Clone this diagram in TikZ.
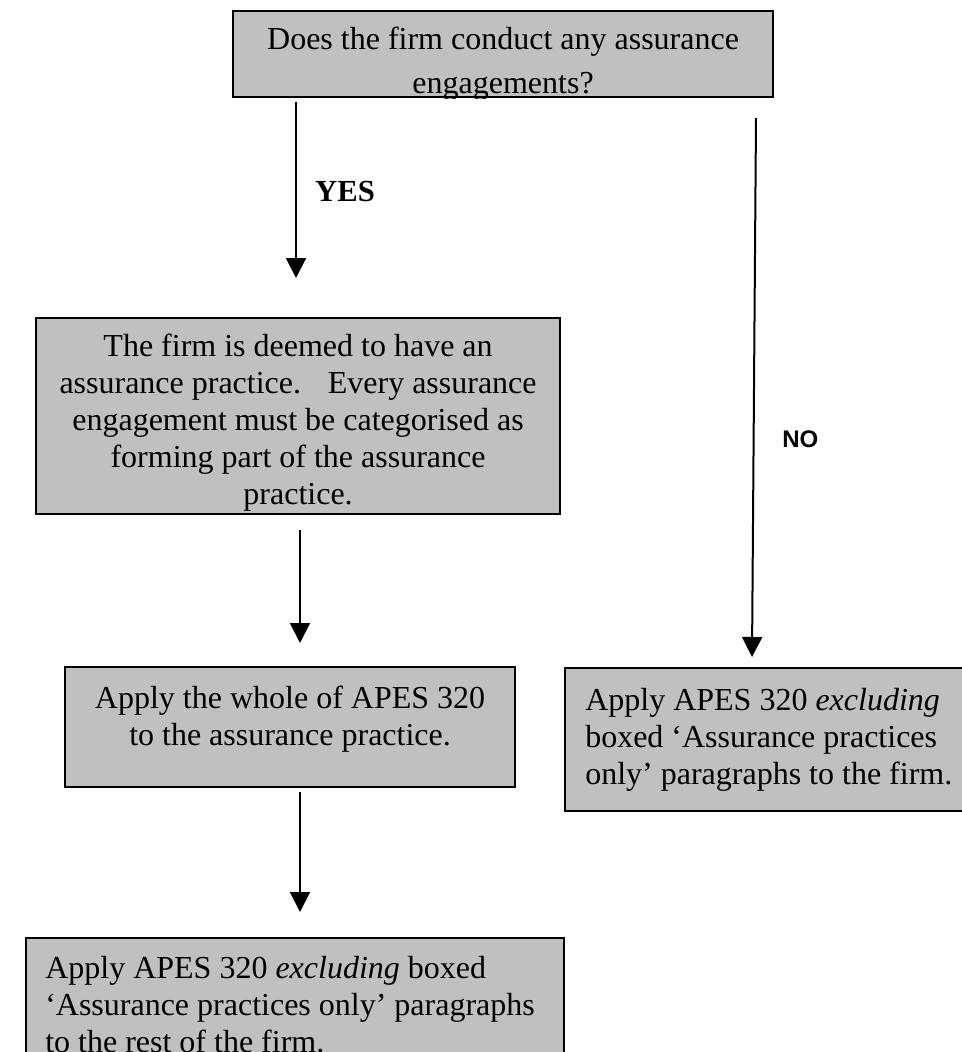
\documentclass[tikz,border=0pt]{standalone}
\usepackage{fontspec}
\setmainfont{Liberation Serif}
\newfontfamily\labelsans{Liberation Sans}
\usetikzlibrary{positioning,arrows.meta}

\definecolor{boxgrey}{HTML}{C0C0C0}
\newcommand{\pxl}{0.75pt}

\tikzset{
  flowbox/.style={draw=black, fill=boxgrey, line width=1.6pt, inner sep=0pt, anchor=north west},
  flowtext/.style={inner sep=0pt, anchor=base, font=\fontsize{24}{27.6}\selectfont},
}

\begin{document}
\begin{tikzpicture}[x=0.75pt,y=-0.75pt]
\useasboundingbox (0,0) rectangle (962,1052);

\begin{scope}[every node/.style={flowbox}]
  \node[minimum width=540*\pxl, minimum height=86*\pxl] (ask) at (232,10) {};
  \node[minimum width=524*\pxl, minimum height=196*\pxl] (deemed) at (35,317) {};
  \node[minimum width=450*\pxl, minimum height=120*\pxl] (whole) at (64,666) {};
  \node[minimum width=400*\pxl, minimum height=143*\pxl] (firmonly) at (564,667) {};
  \node[minimum width=538*\pxl, minimum height=130*\pxl] (rest) at (25,937) {};
\end{scope}

% texts are cut off by the box edges (base = last line)
\begin{scope}
  \clip (ask.south west) rectangle (ask.north east);
  \node[flowtext, align=center, font=\fontsize{24}{33}\selectfont] (asktext) at ([yshift=-84*\pxl]ask.north)
    {Does the firm conduct any assurance\\engagements?};
\end{scope}
\begin{scope}
  \clip (deemed.south west) rectangle (deemed.north east);
  \node[flowtext, align=center] (deemedtext) at ([yshift=-187*\pxl]deemed.north)
    {The firm is deemed to have an\\assurance practice.~~ Every assurance\\engagement must be categorised as\\forming part of the assurance\\practice.};
\end{scope}
\node[flowtext, align=center] (wholetext) at ([yshift=-79*\pxl]whole.north)
  {Apply the whole of APES 320\\to the assurance practice.};
\node[flowtext, align=left, anchor=base west] (firmonlytext) at ([xshift=21*\pxl, yshift=-117*\pxl]firmonly.north west)
  {Apply APES 320 \textit{excluding}\\boxed ‘Assurance practices\\only’ paragraphs to the firm.};
\node[flowtext, align=left, anchor=base west] (resttext) at ([xshift=20*\pxl, yshift=-115*\pxl]rest.north west)
  {Apply APES 320 \textit{excluding} boxed\\‘Assurance practices only’ paragraphs\\to the rest of the firm.};

\node[anchor=base, inner sep=0pt, font=\fontsize{23}{23}\selectfont\bfseries] (yes) at (345,201) {YES};
\node[anchor=base west, inner sep=0pt, font=\labelsans\fontsize{18}{18}\selectfont\bfseries] (no) at (782,447) {NO};

\coordinate (yesfrom) at (296,102);
\coordinate (yesto) at (296,278);
\coordinate (nofrom) at (756,118);
\coordinate (noto) at (752,657);
\coordinate (applyfrom) at (300,530);
\coordinate (applyto) at (300,643);
\coordinate (restfrom) at (300,792);
\coordinate (restto) at (300,912);

\begin{scope}[every edge/.style={draw=black, line width=1.5pt, -{Triangle[width=15pt,length=15pt]}}]
  \path (yesfrom) edge (yesto);
  \path (nofrom) edge (noto);
  \path (applyfrom) edge (applyto);
  \path (restfrom) edge (restto);
\end{scope}
\end{tikzpicture}
\end{document}
